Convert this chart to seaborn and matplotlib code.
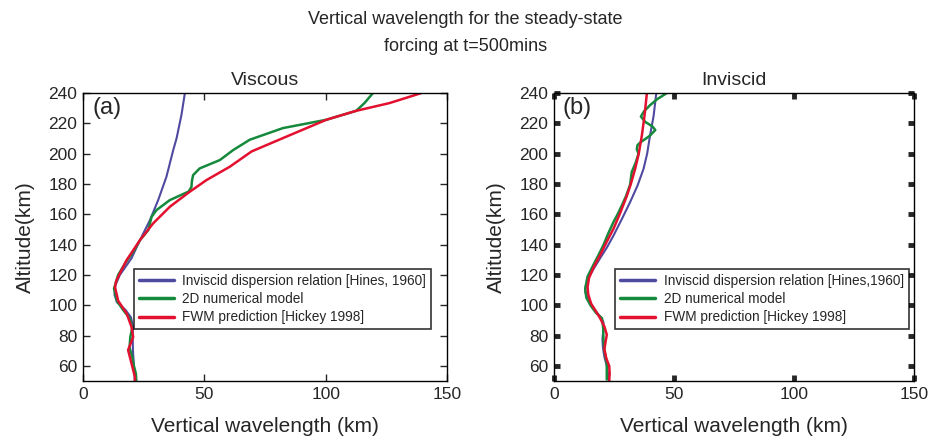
import numpy as np
import pandas as pd
import matplotlib
matplotlib.use("Agg")
import matplotlib.pyplot as plt
import seaborn as sns

# viscous panel (a)
visc_hines_alt = [240, 225.7, 210.3, 202.4, 184.8, 169.4, 156.2, 143, 131, 120, 113, 107, 102, 97, 92, 86,
                  78, 70, 60, 50]
visc_hines_wl = [42, 40.6, 38.6, 37.2, 34.4, 31, 27.6, 23.5, 20, 15.2, 13.3, 13, 14, 17.5, 19.8, 20.6,
                 20.5, 20.6, 21, 21.4]
visc_model_alt = [240, 233.4, 228.3, 222.4, 216.9, 209.2, 202.4, 195.8, 190.3, 185.9, 182, 178, 175, 169.4,
                  162.8, 158.4, 149.6, 143, 136, 128, 120, 111, 103, 97, 91.3, 85, 79, 72, 66, 60, 55, 50]
visc_model_wl = [119.5, 116, 112.6, 100.3, 82.4, 68.7, 61.9, 56.4, 48.1, 45.4, 44.9, 44.7, 43.5, 35.8,
                 30.3, 28.3, 26.9, 23.5, 21, 17.5, 14.5, 12.8, 14, 16.5, 19.3, 20.3, 19.5, 19.2, 20.3, 21,
                 21.8, 22]
visc_fwm_alt = [240, 233.4, 228.3, 222.4, 210.3, 201.5, 191.4, 182.6, 174.9, 165, 154, 143, 129.8, 122,
                116, 112, 103, 94.6, 85.8, 79, 70.5, 61.7, 52.8, 50]
visc_fwm_wl = [139.4, 126.3, 112.6, 100.3, 82.4, 69.5, 60.5, 50.9, 44, 35.8, 28.9, 23.5, 18, 15.5,
               13.7, 13.2, 14.5, 18, 20, 20.7, 18.6, 20, 21.4, 21.4]

# inviscid panel (b)
invi_hines_alt = [240, 225, 212, 200, 190, 179, 168, 157, 146, 138, 131, 124, 118, 113, 109, 104, 98, 93,
                  89, 84, 78, 72, 66, 60, 55, 50]
invi_hines_wl = [42.6, 41.5, 40, 38.8, 37.3, 34.8, 31.7, 28.3, 24.8, 22, 19.2, 16.5, 14.3, 13.3, 13, 14,
                 16.4, 19, 20.6, 20.6, 20.2, 20.4, 21, 22, 22.5, 23]
invi_model_alt = [240, 236, 232, 228, 224.5, 221, 218, 215.6, 212, 210, 207.5, 205.7, 203, 200, 194, 188,
                  179.5, 172, 166, 160, 155, 147, 139.7, 133, 126.6, 119, 111, 105, 100, 95, 91.5, 85,
                  78, 70, 62, 56, 51]
invi_model_wl = [47, 43, 40, 37.5, 36.2, 38, 41, 42.2, 40, 38.3, 36, 34.8, 34.5, 35.2, 34, 32.4,
                 31.7, 30, 28.3, 26.5, 24.8, 22.5, 20.6, 18.5, 16.4, 14, 13, 13.5, 15.2, 17.5, 20, 20.5,
                 20.6, 21, 22, 22, 22]
invi_fwm_alt = [240, 225, 212, 200, 190, 180, 172, 161, 150.5, 142, 133, 125, 118, 112, 107, 101, 96, 91.5,
                86, 80.6, 76, 71, 65, 60, 55, 50]
invi_fwm_wl = [38.7, 37.7, 36.6, 35.3, 33.8, 32, 30.3, 27.6, 24.8, 22, 19.2, 16.5, 14.6, 14, 14.3, 15.5,
               17.5, 19.2, 21, 22, 21.5, 21, 21.8, 23, 23.2, 23]

sns.set_theme(style="ticks")
plt.rcParams['font.family'] = ['Liberation Sans', 'DejaVu Sans']

c_blue = "#4f4aa0"
c_green = "#158a3c"
c_red = "#e3102f"

fig = plt.figure(figsize=(9.31, 4.37), dpi=100)
ax1 = fig.add_axes([0.0891, 0.128, 0.391, 0.659])
ax2 = fig.add_axes([0.595, 0.128, 0.387, 0.659])

panels = [
    (ax1, "Viscous", "(a)", "Inviscid dispersion relation [Hines, 1960]",
     (visc_hines_wl, visc_hines_alt), (visc_model_wl, visc_model_alt), (visc_fwm_wl, visc_fwm_alt),
     (0.14, 0.39, 0.815, 0.205), 5, 1.0),
    (ax2, "Inviscid", "(b)", "Inviscid dispersion relation [Hines,1960]",
     (invi_hines_wl, invi_hines_alt), (invi_model_wl, invi_model_alt), (invi_fwm_wl, invi_fwm_alt),
     (0.17, 0.39, 0.815, 0.225), 4, 3.5),
]

for ax, title, tag, hlab, hines, model, fwm, lbox, tl, tw in panels:
    sns.lineplot(x=hines[0], y=hines[1], sort=False, estimator=None, color=c_blue, lw=1.5, ax=ax, label=hlab)
    sns.lineplot(x=model[0], y=model[1], sort=False, estimator=None, color=c_green, lw=1.8, ax=ax,
                 label="2D numerical model")
    sns.lineplot(x=fwm[0], y=fwm[1], sort=False, estimator=None, color=c_red, lw=1.8, ax=ax,
                 label="FWM prediction [Hickey 1998]")
    ax.set_xlim(0, 150)
    ax.set_ylim(50, 240)
    ax.set_xticks([0, 50, 100, 150])
    ax.set_yticks(range(60, 241, 20))
    ax.tick_params(direction="in", top=True, right=True, length=tl, width=tw, labelsize=12.5, pad=4)
    for s in ax.spines.values():
        s.set_linewidth(1.0)
        s.set_color("black")
    ax.set_title(title, fontsize=14, pad=6)
    ax.set_xlabel("Vertical wavelength (km)", fontsize=15, labelpad=11)
    ax.set_ylabel("Altitude(km)", fontsize=15, labelpad=10)
    ax.text(0.025, 0.985, tag, transform=ax.transAxes, fontsize=17, va="top", ha="left")
    leg = ax.legend(loc="upper left", bbox_to_anchor=(lbox[0], lbox[1], lbox[2], 0), mode="expand",
                    fontsize=9.8, frameon=True, fancybox=False, edgecolor="black", handlelength=2.6,
                    borderpad=0.35, labelspacing=0.33, handletextpad=0.6, borderaxespad=0)
    leg.get_frame().set_linewidth(1.2)
    for h in leg.get_lines():
        h.set_linewidth(2.5)

fig.suptitle("Vertical wavelength for the steady-state\nforcing at t=500mins", fontsize=13, y=0.975,
             linespacing=1.75)

fig.savefig("out.png", dpi=100)
